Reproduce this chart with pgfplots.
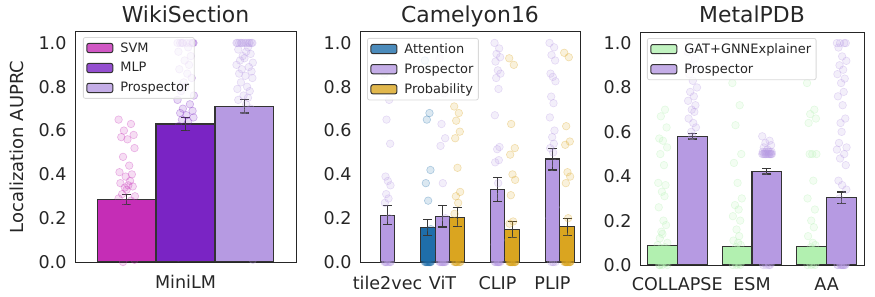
\documentclass[border=0pt]{standalone}
\usepackage{fontspec}
\setmainfont{DejaVu Sans}
\usepackage{pgfplots}
\pgfplotsset{compat=1.18}
\definecolor{svm}{RGB}{197,45,182}
\definecolor{mlp}{RGB}{122,36,196}
\definecolor{pros}{RGB}{182,154,226}
\definecolor{att}{RGB}{31,110,170}
\definecolor{prob}{RGB}{218,165,32}
\definecolor{gat}{RGB}{178,240,176}
\definecolor{frame}{RGB}{38,38,38}
\pgfplotsset{
  panel/.style={
    scale only axis,
    anchor=south west,
    ymin=0, ymax=1.05,
    ytick={0,0.2,0.4,0.6,0.8,1.0},
    yticklabel style={/pgf/number format/fixed, /pgf/number format/fixed zerofill, /pgf/number format/precision=1, xshift=-5bp},
    /pgf/number format/assume math mode=true,
    major tick length=0pt,
    axis line style={draw=frame, line width=1pt},
    tick label style={font=\fontsize{17.6}{20}\selectfont, text=frame},
    xticklabel style={anchor=base, yshift=-27bp},
    every axis title/.style={at={(0.5,1)}, anchor=base, yshift=9bp, font=\fontsize{22}{26}\selectfont, text=frame},
    every axis y label/.style={at={(axis description cs:-0.265,0.5)}, rotate=90, anchor=center, font=\fontsize{18}{21}\selectfont, text=frame},
    legend style={anchor=north west, draw=black!15, line width=0.8pt, rounded corners=2bp, fill=white, fill opacity=0.8, text opacity=1, draw opacity=1, font=\fontsize{13}{15}\selectfont, text=frame, inner xsep=3bp, inner ysep=3bp, row sep=5bp,
      /tikz/every odd column/.append style={column sep=5bp}},
    legend cell align=left,
  },
  bars/.style={ybar, bar shift=0pt, draw=black!80, line width=1.1pt,
    legend image code/.code={\draw[##1, draw=black!80, line width=1pt] (0bp,-4.6bp) rectangle (26bp,4.6bp);},
    error bars/y dir=both, error bars/y explicit,
    error bars/error bar style={line width=1.1pt, draw=black!78},
    error bars/error mark options={rotate=90, mark size=4.5bp, line width=1.1pt, draw=black!78}},
  strip/.style={only marks, mark=*, mark size=3.8bp, mark options={fill=#1, draw=#1, fill opacity=0.16, draw opacity=0.32, line width=0.6pt}, forget plot},
}
\begin{document}
\begin{tikzpicture}
\useasboundingbox (0,0) rectangle (875bp,297bp);
% ---------------- WikiSection
\begin{axis}[panel, at={(75bp,35bp)}, width=221bp, height=230bp,
  xmin=-0.5, xmax=0.5, xtick={0}, xticklabels={MiniLM}, bar width=0.2667,
  title={WikiSection}, ylabel={Localization AUPRC},
  legend style={at={(0.036,0.978)}}]
\addplot[bars, fill=svm] coordinates {(-0.2667,0.285) +- (0,0.022)};
\addlegendentry{SVM}
\addplot[bars, fill=mlp] coordinates {(0,0.63) +- (0,0.03)};
\addlegendentry{MLP}
\addplot[bars, fill=pros] coordinates {(0.2667,0.71) +- (0,0.03)};
\addlegendentry{Prospector}
\addplot[strip=svm, x filter/.expression={-0.2667+0.04*x}] coordinates {
(-0.9,0.65) (0.5,0.63) (-0.3,0.60) (0.8,0.58) (-0.6,0.57) (0.1,0.56) (0.9,0.52) (-0.4,0.48) (0.3,0.44) (-0.8,0.41)
(0.6,0.40) (-0.1,0.39) (0.4,0.37) (-0.7,0.36) (0.2,0.35) (0.7,0.345) (-0.2,0.34) (0.0,0.33) (-0.5,0.31) (0.95,0.30)
(-0.9,0.29) (0.5,0.28) (-0.3,0.27) (0.8,0.26) (-0.6,0.25) (0.1,0.24) (0.9,0.23) (-0.4,0.22) (0.3,0.21) (-0.8,0.20)
(0.6,0.19) (-0.1,0.18) (0.4,0.17) (-0.7,0.15) (0.2,0.14) (0.7,0.12) (-0.2,0.11) (0.0,0.10) (-0.5,0.09) (0.95,0.08)
(-0.9,0.07) (0.5,0.06) (-0.3,0.05) (0.8,0.04) (-0.6,0.03) (0.1,0.02) (0.9,0.01) (-0.4,0.0)};
\addplot[strip=mlp, x filter/.expression={0.04*x}] coordinates {
(-0.9,1) (0.5,1) (-0.3,1) (0.8,1) (-0.6,1) (0.1,1) (0.9,1) (-0.4,1) (0.3,0.98) (-0.8,0.96)
(0.6,0.94) (-0.1,0.92) (0.4,0.90) (-0.7,0.88) (0.2,0.86) (0.7,0.84) (-0.2,0.82) (0.0,0.80) (-0.5,0.78) (0.95,0.76)
(-0.9,0.74) (0.5,0.72) (-0.3,0.70) (0.8,0.69) (-0.6,0.68) (0.1,0.67) (0.9,0.66) (-0.4,0.65) (0.3,0.64) (-0.8,0.62)
(0.6,0.60) (-0.1,0.58) (0.4,0.55) (-0.7,0.52) (0.2,0.50) (0.7,0.47) (-0.2,0.44) (0.0,0.42) (-0.5,0.38) (0.95,0.35)
(-0.9,0.30) (0.5,0.28) (-0.3,0.25) (0.8,0.22) (-0.6,0.18) (0.1,0.15) (0.9,0.12) (-0.4,0.08) (0.3,0.05) (-0.8,0.02)};
\addplot[strip=pros, x filter/.expression={0.2667+0.04*x}] coordinates {
(-0.9,1) (0.5,1) (-0.3,1) (0.8,1) (-0.6,1) (0.1,1) (0.9,1) (-0.4,1) (0.3,1) (-0.8,1)
(0.6,1) (-0.1,1) (0.4,0.98) (-0.7,0.97) (0.2,0.96) (0.7,0.95) (-0.2,0.94) (0.0,0.93) (-0.5,0.92) (0.95,0.91)
(-0.9,0.90) (0.5,0.89) (-0.3,0.88) (0.8,0.87) (-0.6,0.86) (0.1,0.85) (0.9,0.84) (-0.4,0.82) (0.3,0.80) (-0.8,0.79)
(0.6,0.78) (-0.1,0.76) (0.4,0.75) (-0.7,0.74) (0.2,0.72) (0.7,0.70) (-0.2,0.69) (0.0,0.68) (-0.5,0.66) (0.95,0.64)
(-0.9,0.62) (0.5,0.60) (-0.3,0.58) (0.8,0.56) (-0.6,0.52) (0.1,0.50) (0.9,0.48) (-0.4,0.45) (0.3,0.40) (-0.8,0.36)
(0.6,0.33) (-0.1,0.30) (0.4,0.25) (-0.7,0.22) (0.2,0.18) (0.7,0.15) (-0.2,0.10) (0.0,0.06) (-0.5,0.03) (0.95,0.01)};
\end{axis}
% ---------------- Camelyon16
\begin{axis}[panel, at={(360bp,35bp)}, width=220bp, height=230bp,
  xmin=-0.5, xmax=3.5, xtick={0,1,2,3}, xticklabels={tile2vec,ViT,CLIP,PLIP}, bar width=0.2667,
  title={Camelyon16}, legend style={at={(0.032,0.974)}}]
\addplot[bars, fill=att] coordinates {(0.7333,0.157) +- (0,0.037)};
\addlegendentry{Attention}
\addplot[bars, fill=pros] coordinates {(0,0.213) +- (0,0.043) (1,0.208) +- (0,0.048) (2,0.33) +- (0,0.055) (3,0.47) +- (0,0.05)};
\addlegendentry{Prospector}
\addplot[bars, fill=prob] coordinates {(1.2667,0.205) +- (0,0.043) (2.2667,0.148) +- (0,0.035) (3.2667,0.16) +- (0,0.038)};
\addlegendentry{Probability}
\addplot[strip=pros, x filter/.expression={0.06*x}] coordinates {
(-0.9,0.86) (0.5,0.74) (-0.3,0.65) (0.8,0.54) (-0.6,0.39) (0.1,0.37) (0.9,0.35) (-0.4,0.31) (0.3,0.29) (-0.8,0.27)
(0.6,0.20) (-0.1,0.15) (0.4,0.10) (-0.7,0.07) (0.2,0.05) (0.7,0.03) (-0.2,0.02) (0.0,0.01) (-0.5,0) (0.95,0)
(-0.9,0) (0.5,0) (-0.3,0) (0.8,0) (-0.6,0) (0.1,0)};
\addplot[strip=att, x filter/.expression={0.7333+0.06*x}] coordinates {
(-0.9,0.92) (0.5,0.68) (-0.3,0.65) (0.8,0.42) (-0.6,0.36) (0.1,0.28) (0.9,0.15) (-0.4,0.10) (0.3,0.06) (-0.8,0.04)
(0.6,0.02) (-0.1,0.01) (0.4,0) (-0.7,0) (0.2,0) (0.7,0) (-0.2,0) (0.0,0) (-0.5,0) (0.95,0)
(-0.9,0) (0.5,0) (-0.3,0) (0.8,0)};
\addplot[strip=pros, x filter/.expression={1+0.06*x}] coordinates {
(-0.9,0.93) (0.5,0.77) (-0.3,0.63) (0.8,0.565) (-0.6,0.53) (0.1,0.36) (0.9,0.20) (-0.4,0.12) (0.3,0.08) (-0.8,0.05)
(0.6,0.02) (-0.1,0) (0.4,0) (-0.7,0) (0.2,0) (0.7,0) (-0.2,0) (0.0,0) (-0.5,0) (0.95,0)
(-0.9,0) (0.5,0)};
\addplot[strip=prob, x filter/.expression={1.2667+0.06*x}] coordinates {
(-0.9,0.71) (0.5,0.68) (-0.3,0.645) (0.8,0.595) (-0.6,0.565) (0.1,0.43) (0.9,0.32) (-0.4,0.30) (0.3,0.27) (-0.8,0.22)
(0.6,0.18) (-0.1,0.12) (0.4,0.08) (-0.7,0.05) (0.2,0.03) (0.7,0.01) (-0.2,0) (0.0,0) (-0.5,0) (0.95,0)
(-0.9,0) (0.5,0) (-0.3,0) (0.8,0) (-0.6,0)};
\addplot[strip=pros, x filter/.expression={2+0.06*x}] coordinates {
(-0.9,1.0) (0.5,0.975) (-0.3,0.95) (0.8,0.935) (-0.6,0.915) (0.1,0.875) (0.9,0.86) (-0.4,0.84) (0.3,0.79) (-0.8,0.67)
(0.6,0.525) (-0.1,0.515) (0.4,0.465) (-0.7,0.455) (0.2,0.36) (0.7,0.30) (-0.2,0.25) (0.0,0.20) (-0.5,0.15) (0.95,0.10)
(-0.9,0.08) (0.5,0.05) (-0.3,0.03) (0.8,0.02) (-0.6,0.01) (0.1,0) (0.9,0) (-0.4,0) (0.3,0) (-0.8,0)
(0.6,0) (-0.1,0) (0.4,0) (-0.7,0) (0.2,0)};
\addplot[strip=prob, x filter/.expression={2.2667+0.06*x}] coordinates {
(-0.9,0.93) (0.5,0.90) (-0.3,0.63) (0.8,0.52) (-0.6,0.49) (0.1,0.40) (0.9,0.375) (-0.4,0.305) (0.3,0.185) (-0.8,0.175)
(0.6,0.10) (-0.1,0.05) (0.4,0.02) (-0.7,0) (0.2,0) (0.7,0) (-0.2,0) (0.0,0) (-0.5,0) (0.95,0)
(-0.9,0) (0.5,0) (-0.3,0) (0.8,0) (-0.6,0) (0.1,0) (0.9,0) (-0.4,0)};
\addplot[strip=pros, x filter/.expression={3+0.06*x}] coordinates {
(-0.9,1.0) (0.5,0.98) (-0.3,0.945) (0.8,0.92) (-0.6,0.86) (0.1,0.845) (0.9,0.825) (-0.4,0.755) (0.3,0.725) (-0.8,0.66)
(0.6,0.60) (-0.1,0.57) (0.4,0.54) (-0.7,0.52) (0.2,0.50) (0.7,0.45) (-0.2,0.40) (0.0,0.35) (-0.5,0.30) (0.95,0.25)
(-0.9,0.20) (0.5,0.15) (-0.3,0.10) (0.8,0.05) (-0.6,0.02) (0.1,0) (0.9,0) (-0.4,0) (0.3,0)};
\addplot[strip=prob, x filter/.expression={3.2667+0.06*x}] coordinates {
(-0.9,0.955) (0.5,0.935) (-0.3,0.62) (0.8,0.55) (-0.6,0.535) (0.1,0.41) (0.9,0.39) (-0.4,0.36) (0.3,0.20) (-0.8,0.12)
(0.6,0.08) (-0.1,0.05) (0.4,0.03) (-0.7,0.01) (0.2,0) (0.7,0) (-0.2,0) (0.0,0) (-0.5,0) (0.95,0)
(-0.9,0) (0.5,0) (-0.3,0) (0.8,0) (-0.6,0) (0.1,0) (0.9,0) (-0.4,0)};
\end{axis}
% ---------------- MetalPDB
\begin{axis}[panel, at={(640bp,32bp)}, width=224bp, height=233bp,
  xmin=-0.5, xmax=2.5, xtick={0,1,2}, xticklabels={COLLAPSE,ESM,AA}, bar width=0.4,
  xticklabel style={yshift=2bp},
  title={MetalPDB}, legend style={at={(0.031,0.974)}}]
\addplot[bars, fill=gat] coordinates {(-0.2,0.087) +- (0,0) (0.8,0.082) +- (0,0) (1.8,0.082) +- (0,0)};
\addlegendentry{GAT+GNNExplainer}
\addplot[bars, fill=pros] coordinates {(0.2,0.58) +- (0,0.012) (1.2,0.423) +- (0,0.013) (2.2,0.304) +- (0,0.025)};
\addlegendentry{Prospector}
\addplot[strip=gat, x filter/.expression={-0.2+0.07*x}] coordinates {
(-0.9,0.935) (0.5,0.70) (-0.3,0.67) (0.8,0.62) (-0.6,0.57) (0.1,0.56) (0.9,0.53) (-0.4,0.50) (0.3,0.45) (-0.8,0.37)
(0.6,0.36) (-0.1,0.33) (0.4,0.31) (-0.7,0.26) (0.2,0.20) (0.7,0.18) (-0.2,0.15) (0.0,0.14) (-0.5,0.12) (0.95,0.10)
(-0.9,0.09) (0.5,0.08) (-0.3,0.075) (0.8,0.07) (-0.6,0.065) (0.1,0.06) (0.9,0.055) (-0.4,0.05) (0.3,0.045) (-0.8,0.04)
(0.6,0.035) (-0.1,0.03) (0.4,0.025) (-0.7,0.02) (0.2,0.015) (0.7,0.01) (-0.2,0.005) (0.0,0) (-0.5,0) (0.95,0)
(-0.9,0.04) (0.5,0.03) (-0.3,0.02) (0.8,0.01) (-0.6,0)};
\addplot[strip=pros, x filter/.expression={0.2+0.07*x}] coordinates {
(-0.9,0.96) (0.5,0.93) (-0.3,0.90) (0.8,0.88) (-0.6,0.86) (0.1,0.83) (0.9,0.80) (-0.4,0.78) (0.3,0.76) (-0.8,0.74)
(0.6,0.72) (-0.1,0.70) (0.4,0.69) (-0.7,0.66) (0.2,0.64) (0.7,0.62) (-0.2,0.60) (0.0,0.58) (-0.5,0.56) (0.95,0.53)
(-0.9,0.505) (0.5,0.505) (-0.3,0.50) (0.8,0.50) (-0.6,0.50) (0.1,0.50) (0.9,0.50) (-0.4,0.50) (0.3,0.495) (-0.8,0.495)
(0.6,0.50) (-0.1,0.50) (0.4,0.49) (-0.7,0.47) (0.2,0.44) (0.7,0.40) (-0.2,0.33) (0.0,0.28) (-0.5,0.14)};
\addplot[strip=gat, x filter/.expression={0.8+0.07*x}] coordinates {
(-0.9,0.82) (0.5,0.72) (-0.3,0.63) (0.8,0.50) (-0.6,0.46) (0.1,0.37) (0.9,0.30) (-0.4,0.27) (0.3,0.25) (-0.8,0.22)
(0.6,0.20) (-0.1,0.16) (0.4,0.13) (-0.7,0.11) (0.2,0.10) (0.7,0.09) (-0.2,0.08) (0.0,0.07) (-0.5,0.06) (0.95,0.05)
(-0.9,0.045) (0.5,0.04) (-0.3,0.035) (0.8,0.03) (-0.6,0.025) (0.1,0.02) (0.9,0.015) (-0.4,0.01) (0.3,0.005) (-0.8,0)
(0.6,0) (-0.1,0) (0.4,0.03) (-0.7,0.02) (0.2,0.01)};
\addplot[strip=pros, x filter/.expression={1.2+0.07*x}] coordinates {
(-0.9,0.58) (0.5,0.56) (-0.3,0.55) (0.8,0.54) (-0.6,0.53) (0.1,0.52) (0.9,0.51) (-0.4,0.51) (0.3,0.51) (-0.8,0.51)
(0.6,0.51) (-0.1,0.51) (0.4,0.50) (-0.7,0.50) (0.2,0.50) (0.7,0.50) (-0.2,0.50) (0.0,0.50) (-0.5,0.50) (0.95,0.50)
(-0.9,0.50) (0.5,0.50) (-0.3,0.50) (0.8,0.50) (-0.6,0.40) (0.1,0.38) (0.9,0.01) (-0.4,0.01) (0.3,0.01) (-0.8,0.01)
(0.6,0) (-0.1,0) (0.4,0) (-0.7,0)};
\addplot[strip=gat, x filter/.expression={1.8+0.07*x}] coordinates {
(-0.9,0.82) (0.5,0.70) (-0.3,0.68) (0.8,0.66) (-0.6,0.64) (0.1,0.50) (0.9,0.50) (-0.4,0.50) (0.3,0.38) (-0.8,0.30)
(0.6,0.25) (-0.1,0.20) (0.4,0.17) (-0.7,0.13) (0.2,0.10) (0.7,0.09) (-0.2,0.08) (0.0,0.07) (-0.5,0.06) (0.95,0.05)
(-0.9,0.045) (0.5,0.04) (-0.3,0.035) (0.8,0.03) (-0.6,0.025) (0.1,0.02) (0.9,0.015) (-0.4,0.01) (0.3,0.005) (-0.8,0)
(0.6,0) (-0.1,0)};
\addplot[strip=pros, x filter/.expression={2.2+0.07*x}] coordinates {
(-0.9,1.0) (0.5,1.0) (-0.3,1.0) (0.8,1.0) (-0.6,0.98) (0.1,0.94) (0.9,0.92) (-0.4,0.90) (0.3,0.88) (-0.8,0.86)
(0.6,0.84) (-0.1,0.82) (0.4,0.78) (-0.7,0.76) (0.2,0.72) (0.7,0.66) (-0.2,0.64) (0.0,0.60) (-0.5,0.55) (0.95,0.53)
(-0.9,0.52) (0.5,0.50) (-0.3,0.48) (0.8,0.45) (-0.6,0.38) (0.1,0.36) (0.9,0.34) (-0.4,0.30) (0.3,0.28) (-0.8,0.25)
(0.6,0.22) (-0.1,0.20) (0.4,0.18) (-0.7,0.16) (0.2,0.14) (0.7,0.12) (-0.2,0.10) (0.0,0.09) (-0.5,0.08) (0.95,0.07)
(-0.9,0.06) (0.5,0.05) (-0.3,0.04) (0.8,0.03) (-0.6,0.02) (0.1,0.02) (0.9,0.01) (-0.4,0.01) (0.3,0) (-0.8,0)
(0.6,0) (-0.1,0) (0.4,0) (-0.7,0) (0.2,0) (0.7,0) (-0.2,0) (0.0,0)};
\end{axis}
\end{tikzpicture}
\end{document}
